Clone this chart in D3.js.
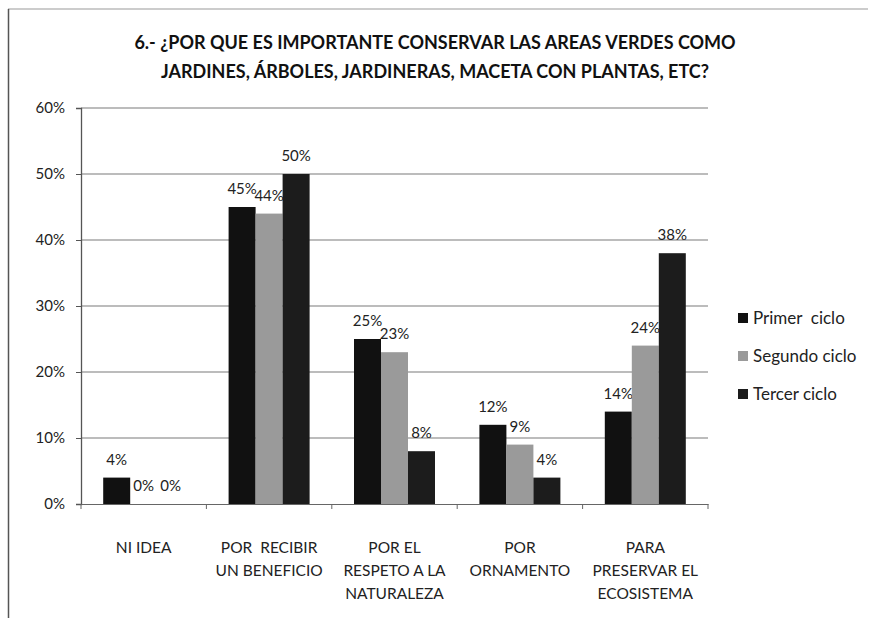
<!DOCTYPE html>
<html>
<head>
<meta charset="utf-8">
<script src="https://cdn.jsdelivr.net/npm/d3@7"></script>
<style>
  body { margin: 0; background: #fff; }
  svg { font-family: Lato, "Open Sans", sans-serif; }
  svg text { white-space: pre; }
</style>
</head>
<body>
<div id="chart"></div>
<script>
// data
var categories = [
  ['NI IDEA'],
  ['POR  RECIBIR', 'UN BENEFICIO'],
  ['POR EL', 'RESPETO A LA', 'NATURALEZA'],
  ['POR', 'ORNAMENTO'],
  ['PARA', 'PRESERVAR EL', 'ECOSISTEMA']
];
var seriesNames = ['Primer  ciclo', 'Segundo ciclo', 'Tercer ciclo'];
var primer = [4, 45, 25, 12, 14];
var segundo = [0, 44, 23, 9, 24];
var tercer = [0, 50, 8, 4, 38];
var yTicks = [0, 10, 20, 30, 40, 50, 60];
var titleLines = [
  '6.- ¿POR QUE ES IMPORTANTE CONSERVAR LAS AREAS VERDES COMO',
  'JARDINES, ÁRBOLES, JARDINERAS, MACETA CON PLANTAS, ETC?'
];

var colors = ['#111111', '#9a9a9a', '#1c1c1c'];
var series = [primer, segundo, tercer];

var width = 872, height = 618,
    plotL = 81, plotR = 708, plotT = 108, plotB = 504;

var svg = d3.select('#chart').append('svg')
    .attr('width', width)
    .attr('height', height);

// outer frame
svg.append('line').attr('x1', 8).attr('y1', 9).attr('x2', 868).attr('y2', 9)
    .attr('stroke', '#999').attr('stroke-width', 1.2);
svg.append('line').attr('x1', 8.5).attr('y1', 9).attr('x2', 8.5).attr('y2', 618)
    .attr('stroke', '#555').attr('stroke-width', 1.5);

// title
svg.selectAll('text.title').data(titleLines).enter().append('text')
    .attr('class', 'title')
    .attr('x', 435)
    .attr('y', function(d, i){ return 49 + i * 29; })
    .attr('text-anchor', 'middle')
    .style('font-size', '18px')
    .style('font-weight', 'bold')
    .style('fill', '#111')
    .text(function(d){ return d; });

var y = d3.scaleLinear().domain([0, 60]).range([plotB, plotT]);
var x0 = d3.scaleBand().domain(d3.range(categories.length)).range([plotL, plotR])
    .paddingInner(0).paddingOuter(0);
var x1 = d3.scaleBand().domain(d3.range(series.length))
    .range([(x0.bandwidth() - 81) / 2, (x0.bandwidth() + 81) / 2]);

// gridlines
svg.selectAll('line.grid').data(yTicks.slice(1)).enter().append('line')
    .attr('class', 'grid')
    .attr('x1', plotL).attr('x2', plotR)
    .attr('y1', function(d){ return y(d); })
    .attr('y2', function(d){ return y(d); })
    .attr('stroke', '#7a7a7a').attr('stroke-width', 1.2);

// y axis
var yAxis = svg.append('g')
    .attr('transform', 'translate(' + plotL + ',0)')
    .call(d3.axisLeft(y).tickValues(yTicks).tickSize(5).tickPadding(11)
      .tickFormat(function(d){ return d + '%'; }));
yAxis.select('.domain').attr('stroke', '#555').attr('stroke-width', 1.3);
yAxis.selectAll('.tick line').attr('stroke', '#555');
yAxis.selectAll('text').style('font-size', '15px').style('fill', '#222')
    .style('font-family', 'Lato, sans-serif');

// x axis
var xAxis = svg.append('g')
    .attr('transform', 'translate(0,' + plotB + ')')
    .call(d3.axisBottom(x0).tickSize(0).tickFormat(''));
xAxis.select('.domain').attr('stroke', '#666').attr('stroke-width', 1.2);
svg.selectAll('line.xtick').data(d3.range(categories.length + 1)).enter().append('line')
    .attr('class', 'xtick')
    .attr('x1', function(d){ return plotL + d * x0.step(); })
    .attr('x2', function(d){ return plotL + d * x0.step(); })
    .attr('y1', plotB).attr('y2', plotB + 5)
    .attr('stroke', '#666');

// category labels
var catG = svg.selectAll('g.cat').data(categories).enter().append('g')
    .attr('class', 'cat')
    .attr('transform', function(d, i){
      return 'translate(' + (x0(i) + x0.bandwidth() / 2) + ',' + 553 + ')';
    });
catG.selectAll('text').data(function(d){ return d; }).enter().append('text')
    .attr('y', function(d, i){ return i * 23; })
    .attr('text-anchor', 'middle')
    .style('font-size', '15.5px')
    .style('fill', '#222')
    .text(function(d){ return d; });

// bars
var groups = svg.selectAll('g.series').data(series).enter().append('g')
    .attr('class', 'series')
    .style('fill', function(d, i){ return colors[i]; });

groups.each(function(vals, si){
  var g = d3.select(this);
  g.selectAll('rect').data(vals).enter().append('rect')
      .attr('x', function(d, ci){ return x0(ci) + x1(si); })
      .attr('width', x1.bandwidth())
      .attr('y', function(d){ return y(d); })
      .attr('height', function(d){ return plotB - y(d); });
  g.selectAll('text').data(vals).enter().append('text')
      .attr('x', function(d, ci){ return x0(ci) + x1(si) + x1.bandwidth() / 2; })
      .attr('y', function(d){ return y(d) - 13; })
      .attr('text-anchor', 'middle')
      .style('font-size', '15px')
      .style('fill', '#222')
      .text(function(d){ return d + '%'; });
});

// legend
var legend = svg.selectAll('g.legend').data(seriesNames).enter().append('g')
    .attr('class', 'legend')
    .attr('transform', function(d, i){ return 'translate(738,' + [318, 356, 394][i] + ')'; });
legend.append('rect')
    .attr('x', 0).attr('y', -5).attr('width', 10).attr('height', 10)
    .style('fill', function(d, i){ return colors[i]; });
legend.append('text')
    .attr('x', 15).attr('y', 6)
    .style('font-size', '17px')
    .style('fill', '#222')
    .text(function(d){ return d; });
</script>
</body>
</html>
